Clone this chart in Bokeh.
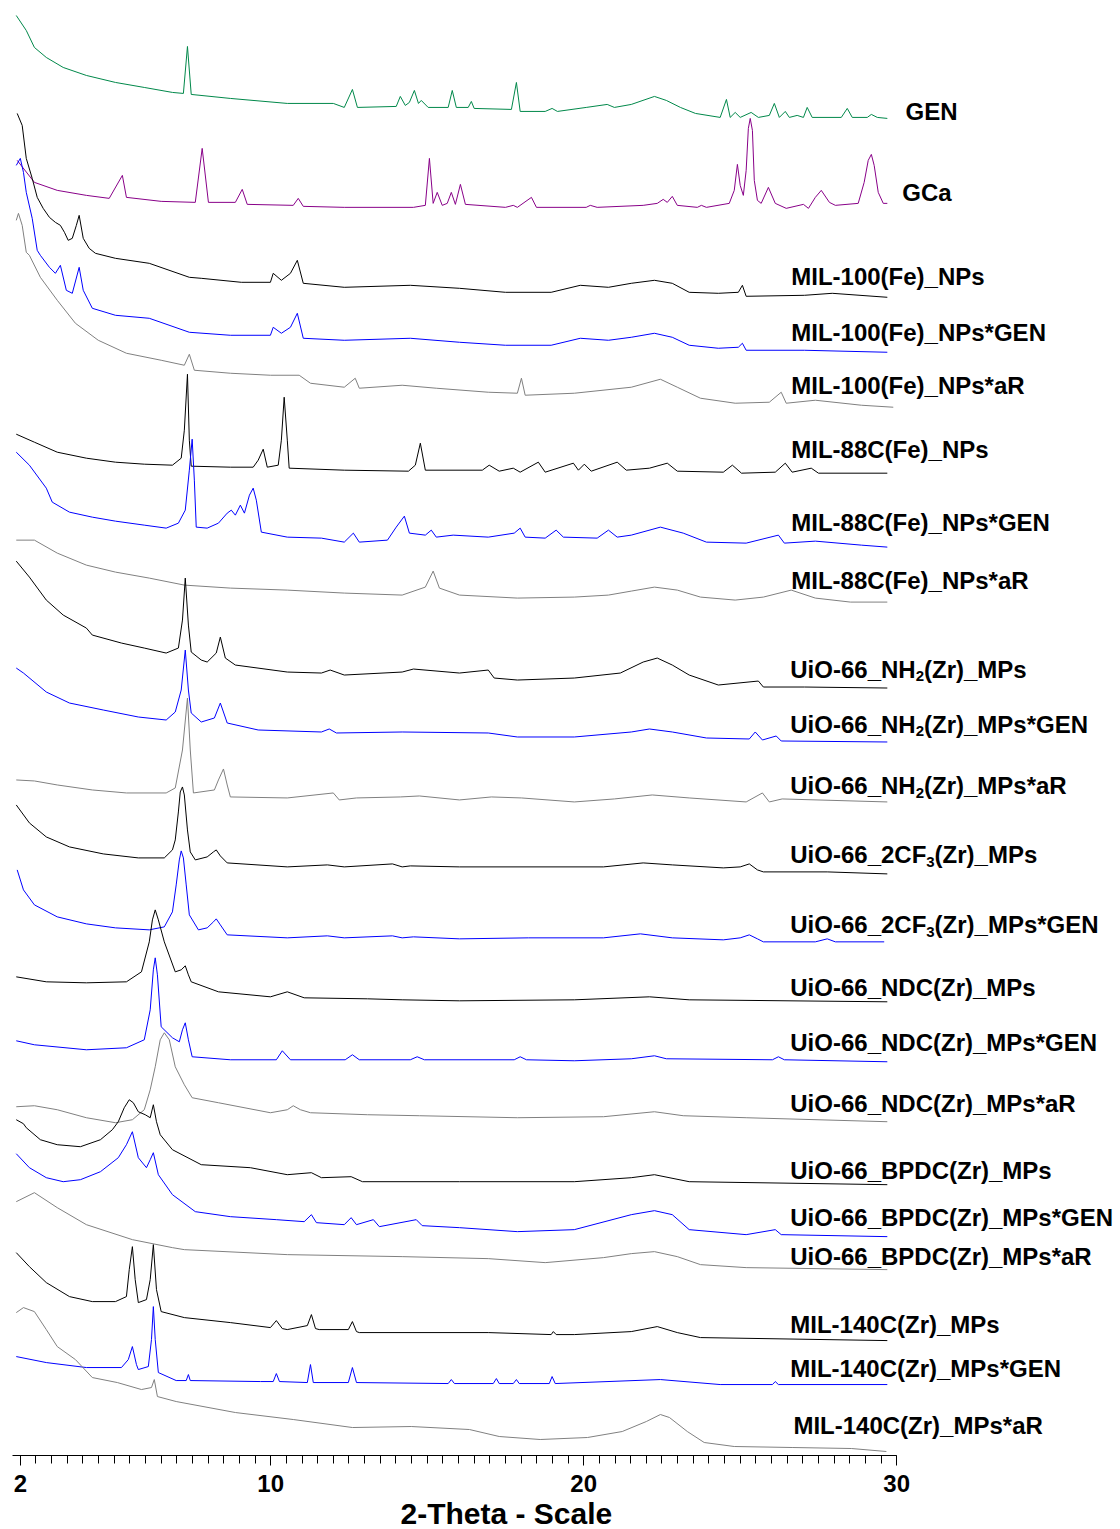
from bokeh.plotting import figure
from bokeh.models import Range1d, FixedTicker, Label, ColumnDataSource, Title
from bokeh.embed import file_html
from bokeh.resources import INLINE

# (2-theta, stacked intensity) pairs, top trace first
GEN = [(1.87,1441),(2.19,1426),(2.45,1409),(2.83,1399),(3.37,1389),(4.11,1381),(5.04,1374),(5.96,1369),(6.86,1364),(7.21,1363),(7.34,1410),(7.46,1362),(8.71,1358),(10.53,1353),(12.00,1353),(12.35,1349),(12.61,1367),(12.77,1349),(14.01,1350),(14.14,1360),(14.30,1351),(14.43,1354),(14.59,1366),(14.72,1353),(14.81,1356),(15.03,1349),(15.67,1349),(15.80,1366),(15.93,1349),(16.31,1349),(16.41,1355),(16.50,1348),(17.69,1347),(17.85,1374),(17.97,1345),(18.77,1345),(18.99,1348),(19.16,1345),(20.08,1349),(20.75,1352),(20.98,1349),(21.52,1352),(22.26,1360),(22.64,1356),(23.09,1349),(23.57,1343),(24.36,1339),(24.56,1357),(24.68,1339),(24.84,1344),(25.00,1339),(25.35,1344),(25.58,1339),(25.93,1341),(26.09,1353),(26.25,1339),(26.44,1345),(26.57,1339),(26.82,1341),(27.02,1339),(27.14,1349),(27.30,1339),(28.23,1339),(28.42,1348),(28.58,1339),(29.06,1339),(29.19,1342),(29.38,1339),(29.70,1338)]
GCA = [(1.90,1296),(2.45,1274),(3.18,1266),(4.11,1261),(4.84,1258),(5.26,1281),(5.39,1259),(6.50,1255),(7.59,1254),(7.81,1308),(8.01,1254),(8.87,1254),(9.09,1267),(9.25,1252),(10.72,1251),(10.88,1258),(11.04,1250),(12.35,1249),(14.56,1249),(14.94,1251),(15.07,1298),(15.19,1253),(15.32,1264),(15.48,1251),(15.64,1253),(15.77,1264),(15.90,1252),(16.06,1272),(16.22,1252),(17.50,1249),(17.75,1251),(17.88,1249),(18.33,1259),(18.49,1249),(20.08,1249),(20.21,1251),(20.43,1249),(21.90,1251),(22.35,1253),(22.54,1257),(22.67,1254),(22.83,1260),(22.99,1251),(23.63,1249),(23.76,1251),(23.92,1249),(24.65,1253),(24.81,1266),(24.91,1292),(25.00,1271),(25.10,1261),(25.19,1286),(25.26,1328),(25.32,1338),(25.39,1326),(25.45,1276),(25.55,1256),(25.67,1253),(25.90,1269),(26.12,1253),(26.47,1248),(27.02,1252),(27.18,1248),(27.40,1259),(27.59,1266),(27.85,1254),(28.04,1251),(28.77,1253),(28.96,1274),(29.09,1296),(29.19,1302),(29.28,1291),(29.41,1264),(29.57,1253),(29.70,1253)]
MIL100 = [(1.90,1343),(2.06,1331),(2.19,1298),(2.38,1278),(2.54,1259),(2.73,1248),(2.93,1239),(3.12,1234),(3.28,1231),(3.41,1224),(3.53,1216),(3.66,1218),(3.79,1231),(3.88,1241),(4.01,1218),(4.20,1208),(4.40,1203),(5.04,1198),(6.12,1193),(7.40,1179),(7.78,1178),(9.06,1174),(9.99,1174),(10.08,1183),(10.34,1176),(10.63,1183),(10.85,1196),(11.04,1173),(12.35,1169),(14.46,1171),(16.03,1168),(17.50,1164),(18.96,1164),(19.89,1171),(20.79,1169),(21.52,1173),(22.26,1176),(22.83,1173),(23.37,1164),(24.30,1163),(24.94,1164),(25.07,1171),(25.19,1160),(27.05,1161),(27.94,1163),(29.70,1159)]
MIL100_GEN = [(1.87,1291),(2.00,1298),(2.10,1284),(2.19,1264),(2.38,1238),(2.54,1206),(2.64,1201),(2.93,1189),(3.12,1183),(3.28,1191),(3.47,1166),(3.66,1163),(3.88,1189),(4.01,1166),(4.30,1148),(5.04,1141),(6.12,1138),(7.40,1124),(8.71,1121),(9.99,1121),(10.08,1129),(10.34,1123),(10.63,1129),(10.85,1143),(11.04,1118),(12.35,1116),(14.46,1118),(16.03,1114),(17.50,1111),(18.96,1111),(19.89,1118),(20.79,1116),(21.52,1119),(22.26,1123),(22.83,1119),(23.37,1111),(24.30,1108),(24.94,1109),(25.07,1113),(25.19,1106),(27.05,1106),(29.70,1104)]
MIL100_AR = [(1.87,1236),(1.94,1243),(2.06,1231),(2.19,1204),(2.29,1201),(2.64,1179),(3.18,1156),(3.76,1133),(4.49,1116),(5.39,1103),(6.50,1096),(7.24,1091),(7.40,1102),(7.56,1086),(8.71,1083),(9.99,1081),(10.91,1081),(11.27,1073),(12.35,1069),(12.70,1078),(12.83,1068),(14.20,1071),(15.29,1068),(16.95,1064),(17.88,1063),(18.01,1078),(18.13,1061),(19.70,1063),(21.52,1069),(22.45,1077),(22.99,1069),(23.73,1058),(24.84,1053),(25.93,1054),(26.31,1064),(26.47,1053),(27.40,1056),(28.87,1051),(29.89,1049)]
MIL88 = [(1.87,1022),(2.45,1014),(3.18,1004),(4.11,998),(5.04,994),(5.96,992),(6.86,991),(7.14,998),(7.24,1026),(7.34,1082),(7.40,1016),(7.46,990),(8.71,989),(9.44,989),(9.60,996),(9.76,1007),(9.89,989),(10.24,991),(10.34,1016),(10.43,1059),(10.53,1016),(10.59,988),(12.35,986),(14.40,985),(14.62,991),(14.78,1013),(14.94,986),(16.76,986),(16.98,991),(17.30,985),(17.75,988),(17.97,984),(18.55,994),(18.77,984),(19.67,993),(19.83,986),(20.02,992),(20.24,985),(21.07,994),(21.36,986),(22.10,988),(22.67,993),(22.99,985),(24.46,984),(24.75,991),(25.04,983),(26.12,984),(26.44,993),(26.66,984),(27.27,988),(27.50,983),(29.70,983)]
MIL88_GEN = [(1.87,1004),(2.29,991),(2.83,968),(3.02,954),(3.57,944),(4.30,939),(5.04,935),(5.96,931),(6.66,928),(7.05,933),(7.27,946),(7.40,986),(7.49,1017),(7.56,976),(7.62,929),(7.97,928),(8.33,933),(8.61,943),(8.74,946),(8.87,941),(9.03,951),(9.16,943),(9.32,961),(9.44,968),(9.54,956),(9.70,924),(10.53,919),(11.62,918),(12.35,914),(12.64,923),(12.83,914),(13.73,916),(14.01,929),(14.27,940),(14.43,923),(14.94,921),(15.13,926),(15.29,919),(15.83,921),(16.95,919),(17.78,923),(17.97,928),(18.13,919),(18.77,918),(19.12,926),(19.35,919),(20.43,918),(20.79,926),(21.07,919),(21.52,921),(22.45,929),(23.18,923),(23.92,914),(25.19,913),(26.22,921),(26.41,913),(27.40,915),(28.87,911),(29.70,909)]
MIL88_AR = [(1.87,916),(2.45,916),(3.18,903),(4.11,891),(5.04,884),(6.12,878),(7.24,871),(8.71,868),(10.53,866),(12.35,863),(14.20,861),(14.94,869),(15.19,885),(15.39,868),(16.03,861),(17.88,858),(19.70,859),(20.79,861),(21.52,865),(22.26,869),(22.99,866),(23.73,859),(24.84,856),(25.74,859),(26.63,866),(27.40,858),(28.52,854),(29.70,854)]
NH2 = [(1.87,895),(2.29,879),(2.83,856),(3.37,841),(4.11,828),(4.30,821),(5.23,813),(5.96,808),(6.66,803),(7.05,808),(7.18,836),(7.27,878),(7.37,831),(7.46,804),(7.78,796),(7.97,794),(8.26,803),(8.39,819),(8.55,798),(8.87,791),(10.53,784),(11.62,783),(11.90,786),(12.35,781),(14.20,784),(14.56,787),(16.03,783),(16.95,786),(17.14,778),(17.88,776),(19.70,778),(21.17,783),(21.90,794),(22.35,798),(22.83,791),(23.37,781),(24.30,771),(25.58,775),(25.74,769),(27.05,769),(29.70,768)]
NH2_GEN = [(1.87,788),(2.10,783),(2.83,764),(3.57,753),(4.65,746),(5.77,739),(6.66,736),(6.95,744),(7.14,766),(7.27,806),(7.37,766),(7.46,743),(7.78,734),(8.20,738),(8.39,753),(8.61,733),(9.60,726),(11.62,724),(11.87,727),(12.10,723),(14.20,724),(16.95,723),(17.88,719),(19.70,719),(21.52,724),(22.10,727),(22.83,724),(23.92,718),(25.29,717),(25.48,724),(25.71,716),(26.15,720),(26.31,715),(29.70,714)]
NH2_AR = [(1.87,676),(2.45,675),(3.18,671),(4.30,666),(5.39,663),(6.66,663),(6.95,668),(7.18,706),(7.34,758),(7.43,706),(7.53,663),(8.20,666),(8.33,676),(8.49,687),(8.61,671),(8.71,659),(10.53,658),(12.00,663),(12.19,656),(12.74,658),(14.14,659),(14.75,660),(16.03,656),(17.05,659),(18.01,658),(19.70,654),(20.98,657),(22.19,661),(23.37,658),(25.19,654),(25.71,663),(25.93,654),(26.34,657),(29.70,654)]
CF3 = [(1.87,651),(2.29,633),(2.83,619),(3.57,609),(4.65,602),(5.77,598),(6.60,598),(6.86,606),(6.95,616),(7.05,644),(7.11,664),(7.18,669),(7.24,661),(7.34,626),(7.43,604),(7.59,596),(7.97,599),(8.17,604),(8.26,606),(8.39,600),(8.61,593),(10.53,589),(11.81,591),(12.35,589),(13.89,592),(14.20,589),(14.46,590),(16.03,589),(20.63,589),(21.90,593),(22.83,591),(24.46,588),(25.00,589),(25.29,592),(25.55,586),(25.74,584),(27.78,584),(29.70,582)]
CF3_GEN = [(1.90,586),(2.10,566),(2.45,551),(3.18,539),(4.11,532),(5.04,528),(6.12,526),(6.60,529),(6.86,544),(6.98,571),(7.08,596),(7.14,605),(7.21,598),(7.30,571),(7.40,541),(7.69,526),(7.97,528),(8.17,534),(8.26,537),(8.39,531),(8.61,521),(10.53,518),(11.81,520),(12.35,518),(13.89,520),(14.20,518),(14.56,519),(16.03,517),(18.23,518),(20.63,518),(21.81,522),(22.83,518),(24.46,516),(25.00,518),(25.29,521),(25.55,517),(25.74,514),(27.40,514),(27.78,517),(28.04,514),(29.60,514)]
NDC = [(1.87,479),(2.83,474),(4.11,473),(5.39,474),(5.87,484),(6.12,514),(6.22,536),(6.31,546),(6.41,536),(6.60,514),(6.95,484),(7.14,486),(7.27,490),(7.37,481),(7.46,474),(8.33,464),(9.99,459),(10.53,464),(11.07,458),(13.09,457),(14.20,456),(16.03,455),(19.70,456),(22.10,459),(23.37,456),(29.70,454)]
NDC_GEN = [(1.87,415),(2.45,411),(4.11,406),(5.39,408),(5.96,416),(6.15,446),(6.25,486),(6.31,498),(6.38,481),(6.50,429),(6.86,418),(7.08,414),(7.18,426),(7.27,433),(7.37,416),(7.49,399),(8.71,396),(10.18,396),(10.37,405),(10.63,396),(12.38,396),(12.61,401),(12.83,396),(14.46,396),(14.68,399),(14.91,396),(17.78,396),(17.97,399),(18.17,396),(19.70,395),(21.52,397),(22.26,400),(22.64,397),(26.03,396),(26.22,399),(26.41,396),(29.70,394)]
NDC_AR = [(1.87,349),(2.45,350),(3.18,346),(4.11,338),(5.04,333),(5.58,336),(5.96,346),(6.15,366),(6.31,389),(6.47,416),(6.60,423),(6.76,416),(6.95,389),(7.24,371),(7.49,358),(8.33,353),(9.99,343),(10.53,346),(10.72,350),(10.95,346),(11.27,343),(13.09,341),(14.75,340),(17.88,338),(20.63,339),(22.26,344),(23.18,340),(25.19,338),(29.70,334)]
BPDC = [(1.87,336),(2.10,332),(2.19,328),(2.64,316),(3.18,311),(3.92,309),(4.56,316),(4.94,326),(5.13,334),(5.32,348),(5.48,356),(5.61,353),(5.77,344),(5.99,341),(6.15,338),(6.25,351),(6.35,334),(6.47,321),(6.86,306),(7.78,291),(9.35,288),(10.53,281),(11.30,283),(11.62,278),(12.57,279),(12.93,274),(16.03,274),(19.70,274),(21.52,278),(22.26,281),(23.37,274),(29.70,271)]
BPDC_GEN = [(1.87,302),(2.29,288),(2.83,278),(3.37,274),(3.92,276),(4.56,284),(5.13,298),(5.39,311),(5.58,324),(5.77,298),(6.03,288),(6.15,296),(6.25,303),(6.41,281),(6.86,261),(7.59,244),(8.71,239),(10.18,236),(11.07,234),(11.30,241),(11.46,233),(12.35,231),(12.57,238),(12.74,231),(13.28,236),(13.47,229),(14.65,236),(14.84,230),(16.03,228),(17.88,224),(19.70,226),(21.52,241),(22.26,245),(22.83,241),(23.37,226),(25.19,221),(26.12,226),(26.31,221),(29.70,219)]
BPDC_AR = [(1.87,254),(2.45,263),(3.18,248),(4.11,231),(5.58,216),(6.86,208),(7.24,206),(10.53,201),(14.20,199),(16.95,197),(18.77,193),(20.63,198),(21.52,202),(22.26,204),(22.99,199),(23.73,191),(25.19,188),(29.70,186)]
MIL140 = [(1.87,203),(2.29,189),(2.83,173),(3.57,159),(4.30,154),(5.04,154),(5.39,159),(5.48,186),(5.58,209),(5.67,176),(5.77,153),(6.03,156),(6.15,176),(6.25,211),(6.35,166),(6.50,144),(7.24,138),(8.71,133),(9.99,128),(10.18,135),(10.37,127),(10.53,126),(11.17,130),(11.30,141),(11.43,127),(11.55,126),(12.48,126),(12.61,134),(12.74,124),(12.83,123),(16.95,123),(18.96,121),(19.03,124),(19.12,121),(19.70,121),(21.52,124),(22.35,129),(22.99,123),(23.73,118),(29.70,115)]
MIL140_GEN = [(1.87,99),(2.83,93),(4.11,88),(5.23,88),(5.45,96),(5.58,109),(5.71,91),(5.77,86),(6.09,89),(6.19,116),(6.25,149),(6.31,116),(6.41,83),(6.98,75),(7.30,75),(7.37,81),(7.43,75),(9.67,74),(10.08,74),(10.18,82),(10.28,74),(11.17,73),(11.27,91),(11.36,73),(12.48,73),(12.61,88),(12.74,73),(15.67,72),(15.77,76),(15.87,72),(17.11,72),(17.21,77),(17.30,72),(17.75,72),(17.85,76),(17.94,72),(18.90,72),(18.99,79),(19.09,72),(22.45,76),(24.36,71),(26.03,71),(26.12,74),(26.22,71),(29.70,71)]
MIL140_AR = [(1.87,143),(2.10,148),(2.45,144),(2.83,126),(3.18,109),(3.76,96),(4.30,78),(5.10,73),(5.87,66),(6.19,68),(6.28,76),(6.38,59),(6.98,54),(8.87,43),(10.72,36),(12.61,28),(14.49,29),(16.35,26),(17.30,19),(18.61,16),(20.12,18),(21.23,24),(22.00,34),(22.45,41),(22.74,38),(23.31,24),(23.85,13),(24.81,9),(26.66,8),(28.55,7),(29.67,4)]

BLACK, BLUE, GRAY = "#000000", "#0000ff", "#808080"
TRACES = [
    (GEN, "#00884a"), (GCA, "#880088"),
    (MIL100, BLACK), (MIL100_GEN, BLUE), (MIL100_AR, GRAY),
    (MIL88, BLACK), (MIL88_GEN, BLUE), (MIL88_AR, GRAY),
    (NH2, BLACK), (NH2_GEN, BLUE), (NH2_AR, GRAY),
    (CF3, BLACK), (CF3_GEN, BLUE),
    (NDC, BLACK), (NDC_GEN, BLUE), (NDC_AR, GRAY),
    (BPDC, BLACK), (BPDC_GEN, BLUE), (BPDC_AR, GRAY),
    (MIL140, BLACK), (MIL140_GEN, BLUE), (MIL140_AR, GRAY),
]

# label text: (main, subscript, rest), position in data units
LABELS = [
    ("GEN", "", "", 30.28, 1345),
    ("GCa", "", "", 30.18, 1264),
    ("MIL-100(Fe)_NPs", "", "", 26.63, 1180),
    ("MIL-100(Fe)_NPs*GEN", "", "", 26.63, 1124),
    ("MIL-100(Fe)_NPs*aR", "", "", 26.63, 1071),
    ("MIL-88C(Fe)_NPs", "", "", 26.63, 1007),
    ("MIL-88C(Fe)_NPs*GEN", "", "", 26.63, 934),
    ("MIL-88C(Fe)_NPs*aR", "", "", 26.63, 876),
    ("UiO-66_NH", "2", "(Zr)_MPs", 26.60, 787),
    ("UiO-66_NH", "2", "(Zr)_MPs*GEN", 26.60, 732),
    ("UiO-66_NH", "2", "(Zr)_MPs*aR", 26.60, 670),
    ("UiO-66_2CF", "3", "(Zr)_MPs", 26.60, 601),
    ("UiO-66_2CF", "3", "(Zr)_MPs*GEN", 26.60, 531),
    ("UiO-66_NDC(Zr)_MPs", "", "", 26.60, 468),
    ("UiO-66_NDC(Zr)_MPs*GEN", "", "", 26.60, 413),
    ("UiO-66_NDC(Zr)_MPs*aR", "", "", 26.60, 352),
    ("UiO-66_BPDC(Zr)_MPs", "", "", 26.60, 285),
    ("UiO-66_BPDC(Zr)_MPs*GEN", "", "", 26.60, 238),
    ("UiO-66_BPDC(Zr)_MPs*aR", "", "", 26.60, 199),
    ("MIL-140C(Zr)_MPs", "", "", 26.60, 131),
    ("MIL-140C(Zr)_MPs*GEN", "", "", 26.60, 87),
    ("MIL-140C(Zr)_MPs*aR", "", "", 26.70, 30),
]
MAIN_WIDTH = {"UiO-66_NH": 125.4, "UiO-66_2CF": 136.0}

MAJOR_TICKS = [2, 10, 20, 30]
MINOR_TICKS = [2 + 0.5 * i for i in range(57)]

FONT = "Liberation Sans"

p = figure(width=1120, height=1529, output_backend="svg", toolbar_location=None,
           x_range=Range1d(1.75, 37.15), y_range=Range1d(0, 1456),
           min_border_left=12, min_border_right=0, min_border_top=0, min_border_bottom=73,
           y_axis_location=None, outline_line_color=None)
p.xgrid.visible = False
p.ygrid.visible = False

for data, color in TRACES:
    src = ColumnDataSource(dict(x=[d[0] for d in data], y=[d[1] for d in data]))
    p.line("x", "y", source=src, line_color=color, line_width=1)

ax = p.xaxis[0]
ax.ticker = FixedTicker(ticks=MAJOR_TICKS, minor_ticks=MINOR_TICKS)
ax.bounds = (1.75, 30.0)
ax.axis_line_color = "black"
ax.axis_line_width = 1
ax.major_tick_in = 0
ax.major_tick_out = 10
ax.minor_tick_in = 0
ax.minor_tick_out = 8
ax.major_tick_line_color = "black"
ax.minor_tick_line_color = "black"
ax.major_label_text_font = FONT
ax.major_label_text_font_size = "24px"
ax.major_label_text_font_style = "bold"
ax.major_label_text_color = "black"
ax.major_label_standoff = 9

p.add_layout(Title(text="2-Theta - Scale", align="left", offset=388, standoff=0,
                   text_font=FONT, text_font_size="30px", text_font_style="bold",
                   text_color="black"), "below")

for main, sub, rest, lx, ly in LABELS:
    p.add_layout(Label(x=lx, y=ly, text=main, text_font=FONT, text_font_size="24px",
                       text_font_style="bold", text_color="black", text_baseline="middle",
                       text_align="left"))
    if sub:
        w = MAIN_WIDTH[main]
        p.add_layout(Label(x=lx, y=ly - 7, x_offset=w, text=sub, text_font=FONT,
                           text_font_size="15px", text_font_style="bold", text_color="black",
                           text_baseline="middle", text_align="left"))
        p.add_layout(Label(x=lx, y=ly, x_offset=w + 8.3, text=rest, text_font=FONT,
                           text_font_size="24px", text_font_style="bold", text_color="black",
                           text_baseline="middle", text_align="left"))

open("out.html", "w").write(file_html(p, INLINE))
